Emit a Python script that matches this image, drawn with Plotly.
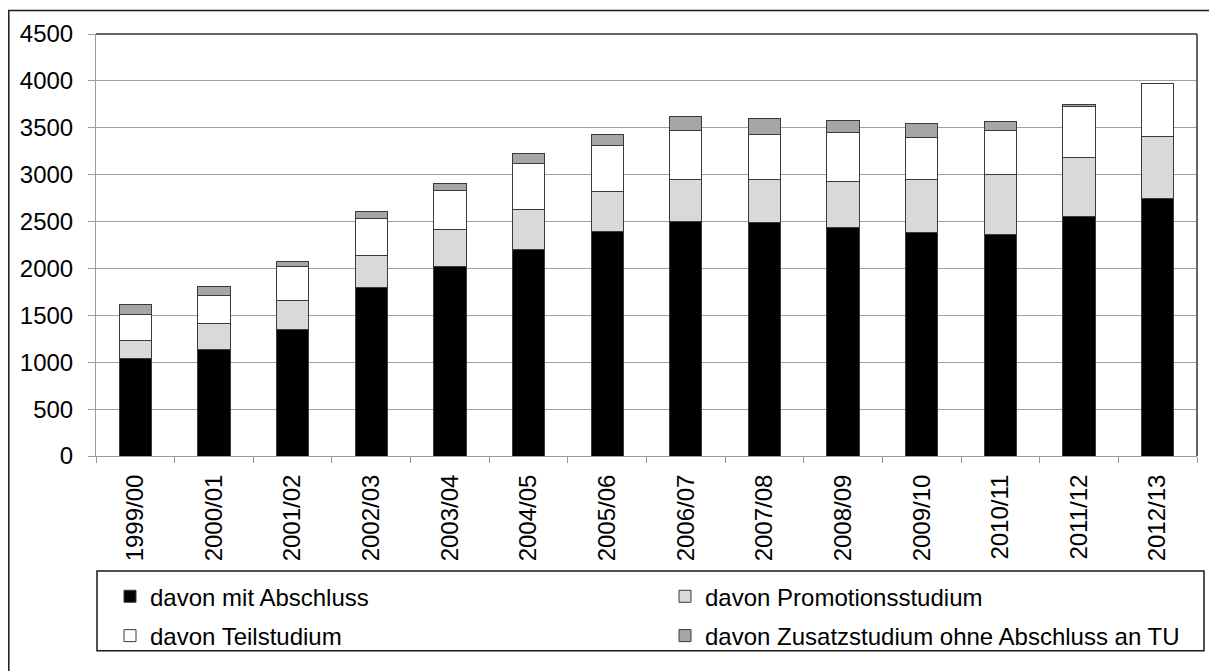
import plotly.graph_objects as go

semester = ["1999/00", "2000/01", "2001/02", "2002/03", "2003/04", "2004/05", "2005/06",
            "2006/07", "2007/08", "2008/09", "2009/10", "2010/11", "2011/12", "2012/13"]
mit_abschluss = [1035, 1139, 1348, 1801, 2021, 2207, 2399, 2500, 2486, 2434, 2381, 2364, 2556, 2744]
promotion = [202, 272, 307, 338, 390, 426, 426, 447, 461, 495, 566, 636, 632, 667]
teilstudium = [268, 303, 362, 394, 418, 485, 481, 520, 481, 520, 450, 467, 534, 558]
zusatz = [115, 98, 53, 70, 80, 104, 119, 150, 171, 133, 153, 97, 21, 0]

series = [
    ("davon mit Abschluss", mit_abschluss, "#000000"),
    ("davon Promotionsstudium", promotion, "#d9d9d9"),
    ("davon Teilstudium", teilstudium, "#ffffff"),
    ("davon Zusatzstudium ohne Abschluss an TU", zusatz, "#a6a6a6"),
]

FONT = "Liberation Sans, Arial, sans-serif"
FS = 24
OFF = 8  # page body margin
W, H = 1217 - OFF, 671 - OFF
# plot area in page coordinates
L, R, T, B = 96, 1197, 34, 463
pw, ph = R - L, B - T

def px(x):
    return (x - L) / pw

def py(y):
    return (B - y) / ph

legend_names = ["legend", "legend2", "legend3", "legend4"]
legend_pos = [(110, 606), (665, 606), (110, 646), (665, 646)]

fig = go.Figure()
for i, (name, vals, col) in enumerate(series):
    fig.add_trace(go.Bar(
        x=semester, y=vals, name=name,
        marker=dict(color=col, line=dict(color="#3a3a3a", width=1)),
        legend=legend_names[i],
    ))

layout_legends = {}
for i, ln in enumerate(legend_names):
    lx, ly = legend_pos[i]
    layout_legends[ln] = dict(
        x=px(lx), y=py(ly), xanchor="left", yanchor="middle",
        bgcolor="rgba(0,0,0,0)", borderwidth=0,
        font=dict(family=FONT, size=FS, color="#000000"),
    )

fig.update_layout(
    width=W, height=H,
    margin=dict(l=L - OFF, r=(W + OFF) - R, t=T - OFF, b=(H + OFF) - B),
    paper_bgcolor="#ffffff", plot_bgcolor="#ffffff",
    barmode="stack", bargap=0.59,
    showlegend=True,
    font=dict(family=FONT, size=FS, color="#000000"),
    xaxis=dict(
        type="category", tickangle=-90, showgrid=False,
        showline=True, linecolor="#9a9a9a", linewidth=1,
        ticks="outside", tickson="boundaries", ticklen=6, tickcolor="#9a9a9a",
        ticklabelstandoff=8,
        tickfont=dict(family=FONT, size=FS, color="#000000"),
        range=[-0.5, 13.5],
    ),
    yaxis=dict(
        range=[0, 4500], tickvals=[0, 500, 1000, 1500, 2000, 2500, 3000, 3500, 4000, 4500],
        showgrid=True, gridcolor="#a0a0a0", gridwidth=1,
        showline=True, linecolor="#9a9a9a", linewidth=1,
        ticks="outside", ticklen=7, tickcolor="#9a9a9a",
        ticklabelstandoff=10,
        tickfont=dict(family=FONT, size=FS, color="#000000"),
        zeroline=False,
    ),
    shapes=[
        # outer frame
        dict(type="rect", xref="paper", yref="paper",
             x0=px(8.8), x1=px(1240), y0=py(700), y1=py(10),
             line=dict(color="#1a1a1a", width=1.5), fillcolor="rgba(0,0,0,0)", layer="below"),
        # plot area top & right border
        dict(type="line", xref="paper", yref="paper", x0=0, x1=1, y0=1, y1=1,
             line=dict(color="#333333", width=1.5)),
        dict(type="line", xref="paper", yref="paper", x0=1, x1=1, y0=0, y1=1,
             line=dict(color="#333333", width=1.5)),
        # legend box
        dict(type="rect", xref="paper", yref="paper",
             x0=px(97), x1=px(1204), y0=py(661), y1=py(580),
             line=dict(color="#1a1a1a", width=1.5), fillcolor="rgba(0,0,0,0)"),
    ],
    **layout_legends,
)

fig.write_html("out.html")
